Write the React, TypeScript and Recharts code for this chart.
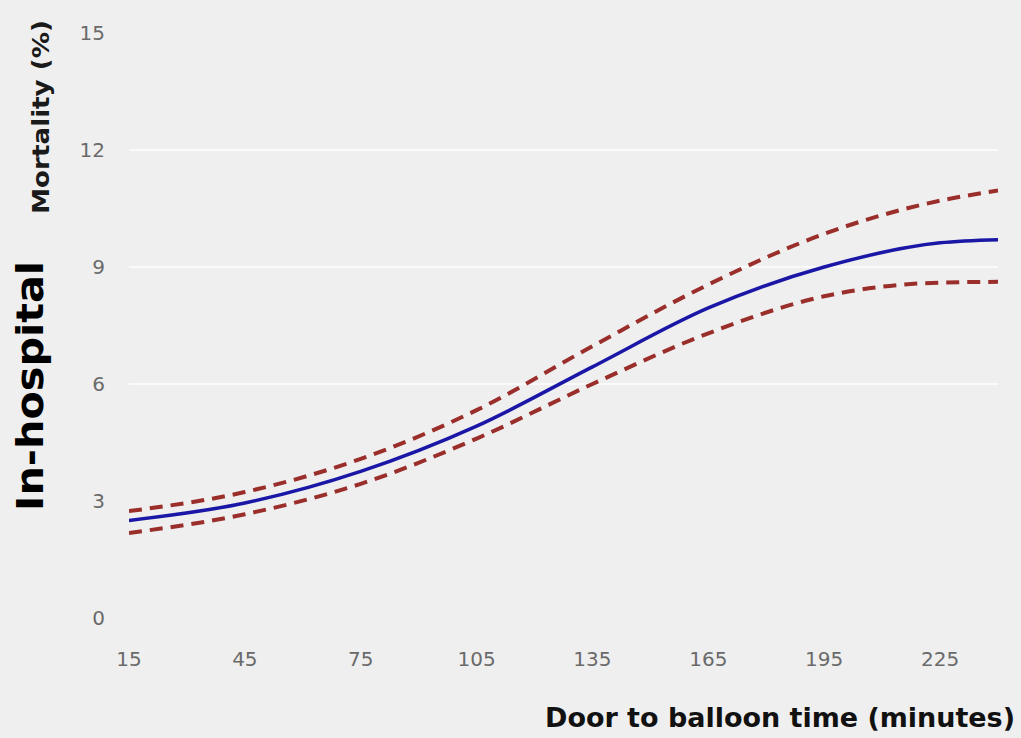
import React from "react";
import { LineChart, Line, XAxis, YAxis, CartesianGrid } from "recharts";

const doorToBalloon = [15, 45, 75, 105, 135, 165, 195, 225, 240];
const mortality = [2.5, 2.95, 3.76, 4.92, 6.44, 7.95, 9.0, 9.62, 9.7];
const upperCI = [2.74, 3.23, 4.08, 5.33, 6.97, 8.55, 9.85, 10.7, 10.96];
const lowerCI = [2.18, 2.66, 3.44, 4.6, 6.0, 7.3, 8.25, 8.6, 8.62];
const xTicks = [15, 45, 75, 105, 135, 165, 195, 225];
const yTicks = [0, 3, 6, 9, 12, 15];
const gridValues = [6, 9, 12];

const data = doorToBalloon.map((x, i) => ({
  x,
  mortality: mortality[i],
  upper: upperCI[i],
  lower: lowerCI[i],
}));

const tickStyle = { fontFamily: "DejaVu Sans", fontSize: 20, fill: "#6a6a6a" };

export default function App() {
  return (
    <div
      style={{
        position: "absolute",
        left: 0,
        top: 0,
        width: 1021,
        height: 738,
        background: "#efefef",
        overflow: "hidden",
      }}
    >
      <LineChart
        width={1021}
        height={738}
        data={data}
        margin={{ top: 33, right: 23, bottom: 60, left: 0 }}
      >
        <CartesianGrid
          horizontal
          vertical={false}
          stroke="#fafafa"
          strokeWidth={2}
          horizontalValues={gridValues}
        />
        <XAxis
          dataKey="x"
          type="number"
          domain={[15, 240]}
          ticks={xTicks}
          axisLine={false}
          tickLine={false}
          tickSize={0}
          tickMargin={34}
          height={60}
          tick={tickStyle}
          allowDataOverflow
        />
        <YAxis
          type="number"
          domain={[0, 15]}
          ticks={yTicks}
          axisLine={false}
          tickLine={false}
          tickSize={0}
          tickMargin={24}
          width={129}
          tick={tickStyle}
        />
        <Line
          type="monotone"
          dataKey="upper"
          stroke="#9a2e2a"
          strokeWidth={4}
          strokeDasharray="13 8"
          dot={false}
          isAnimationActive={false}
        />
        <Line
          type="monotone"
          dataKey="lower"
          stroke="#9a2e2a"
          strokeWidth={4}
          strokeDasharray="13 8"
          dot={false}
          isAnimationActive={false}
        />
        <Line
          type="monotone"
          dataKey="mortality"
          stroke="#1a17a6"
          strokeWidth={3.5}
          dot={false}
          isAnimationActive={false}
        />
      </LineChart>
      <svg
        width={1021}
        height={738}
        style={{ position: "absolute", left: 0, top: 0, pointerEvents: "none" }}
      >
        <text
          transform="translate(49,117) rotate(-90)"
          textAnchor="middle"
          textLength={194}
          lengthAdjust="spacingAndGlyphs"
          style={{ fontFamily: "DejaVu Sans", fontWeight: "bold", fontSize: 23, fill: "#1a1a1a" }}
        >
          Mortality (%)
        </text>
        <text
          transform="translate(43,386) rotate(-90)"
          textAnchor="middle"
          textLength={250}
          lengthAdjust="spacingAndGlyphs"
          style={{ fontFamily: "DejaVu Sans", fontWeight: "bold", fontSize: 38, fill: "#000" }}
        >
          In-hospital
        </text>
        <text
          x={780}
          y={727}
          textAnchor="middle"
          textLength={470}
          lengthAdjust="spacingAndGlyphs"
          style={{ fontFamily: "DejaVu Sans", fontWeight: "bold", fontSize: 26, fill: "#111" }}
        >
          Door to balloon time (minutes)
        </text>
      </svg>
    </div>
  );
}
